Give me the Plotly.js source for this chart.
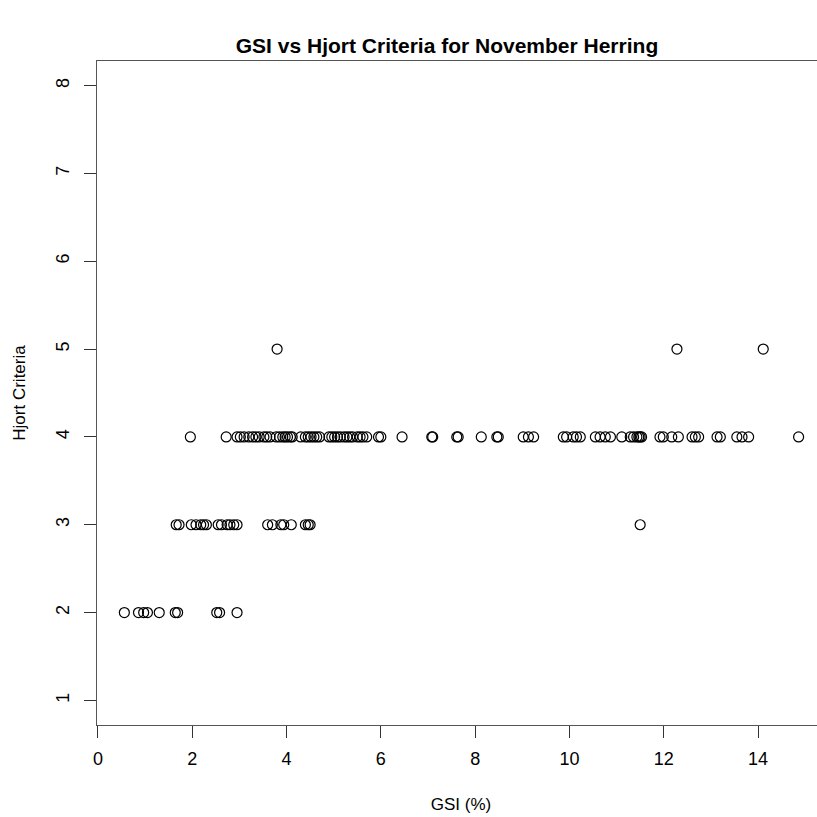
<!DOCTYPE html>
<html>
<head>
<meta charset="utf-8">
<script src="https://cdn.plot.ly/plotly-3.0.1.min.js"></script>
<style>
  html, body { margin: 0; padding: 0; background: #fff; overflow: hidden; }
  #plot { width: 830px; height: 817px; }
</style>
</head>
<body>
<div id="plot"></div>
<script>
// GSI (%) readings grouped by Hjort maturity criterion
const gsiStage2 = [0.56, 0.86, 0.97, 1.05, 1.30, 1.64, 1.69, 2.52, 2.58, 2.95];
const gsiStage3 = [1.66, 1.72, 1.98, 2.08, 2.18, 2.24, 2.30, 2.55, 2.62, 2.74, 2.80,
                   2.88, 2.95, 3.60, 3.70, 3.88, 3.94, 4.10, 4.40, 4.46, 4.50, 11.50];
const gsiStage4 = [1.96, 2.72, 2.95, 3.02, 3.10, 3.20, 3.28, 3.35, 3.42, 3.52, 3.58,
                   3.65, 3.78, 3.85, 3.92, 3.97, 4.02, 4.08, 4.12, 4.30, 4.40, 4.46,
                   4.52, 4.58, 4.64, 4.70, 4.90, 4.96, 5.02, 5.08, 5.14, 5.22, 5.28,
                   5.34, 5.40, 5.50, 5.56, 5.62, 5.70, 5.95, 6.00, 6.45, 7.08, 7.10,
                   7.61, 7.64, 8.13, 8.46, 8.49, 9.02, 9.13, 9.24, 9.87, 9.94, 10.08,
                   10.15, 10.23, 10.55, 10.65, 10.76, 10.87, 11.11, 11.29, 11.36,
                   11.43, 11.47, 11.50, 11.53, 11.92, 11.99, 12.17, 12.31, 12.60,
                   12.67, 12.74, 13.13, 13.20, 13.55, 13.66, 13.80, 14.86];
const gsiStage5 = [3.80, 12.28, 14.11];
const stages = [2, 3, 4, 5];
const groups = [gsiStage2, gsiStage3, gsiStage4, gsiStage5];

const xTicks = [0, 2, 4, 6, 8, 10, 12, 14];
const yTicks = [1, 2, 3, 4, 5, 6, 7, 8];

const gsi = [];
const hjort = [];
groups.forEach((g, i) => g.forEach(v => { gsi.push(v); hjort.push(stages[i]); }));

const trace = {
  x: gsi,
  y: hjort,
  type: 'scatter',
  mode: 'markers',
  marker: {
    symbol: 'circle-open',
    size: 10,
    color: '#000',
    line: { width: 1.2, color: '#000' }
  },
  hoverinfo: 'x+y'
};

const font = { family: 'Liberation Sans, Arial, sans-serif', color: '#000' };

const layout = {
  width: 830,
  height: 817,
  margin: { l: 97, r: 5, t: 61, b: 92 },
  paper_bgcolor: '#fff',
  plot_bgcolor: '#fff',
  showlegend: false,
  font: font,
  title: {
    text: '<b>GSI vs Hjort Criteria for November Herring</b>',
    font: { family: font.family, size: 21, color: '#000' },
    x: 447 / 830,
    xref: 'container',
    xanchor: 'center',
    y: 1 - 46 / 817,
    yref: 'container',
    yanchor: 'middle'
  },
  xaxis: {
    range: [-0.02, 15.42],
    tickvals: xTicks,
    ticktext: xTicks.map(String),
    ticks: 'outside',
    ticklen: 12,
    tickwidth: 1,
    tickcolor: '#333',
    ticklabelstandoff: 5,
    tickfont: { family: font.family, size: 18, color: '#000' },
    showline: true,
    linecolor: '#555',
    linewidth: 1,
    mirror: true,
    showgrid: false,
    zeroline: false,
    automargin: false,
    title: {
      text: 'GSI (%)',
      font: { family: font.family, size: 17, color: '#000' },
      standoff: 30
    }
  },
  yaxis: {
    range: [0.72, 8.28],
    tickvals: yTicks,
    ticktext: yTicks.map(String),
    tickangle: -90,
    ticks: 'outside',
    ticklen: 12,
    tickwidth: 1,
    tickcolor: '#333',
    ticklabelstandoff: 8,
    tickfont: { family: font.family, size: 18, color: '#000' },
    showline: true,
    linecolor: '#555',
    linewidth: 1,
    mirror: true,
    showgrid: false,
    zeroline: false,
    automargin: false,
    title: {
      text: 'Hjort Criteria',
      font: { family: font.family, size: 17, color: '#000' },
      standoff: 22
    }
  }
};

Plotly.newPlot('plot', [trace], layout, { displayModeBar: false, staticPlot: true });
</script>
</body>
</html>
